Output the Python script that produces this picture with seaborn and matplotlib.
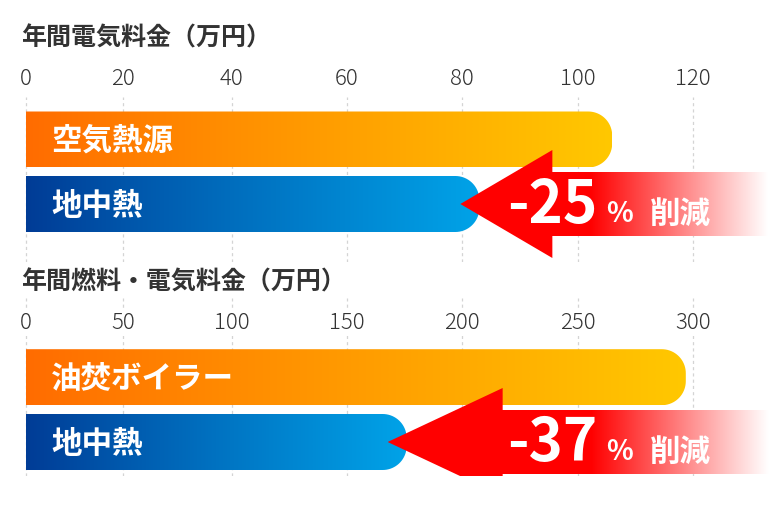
import numpy as np
import matplotlib
matplotlib.use('Agg')
import matplotlib.pyplot as plt
import seaborn as sns
from matplotlib.colors import LinearSegmentedColormap
from matplotlib.patches import Polygon

# データ
elec_labels = ['空気熱源', '地中熱']
elec_values = [106, 83]
elec_ticks = [0, 20, 40, 60, 80, 100, 120]

fuel_labels = ['油焚ボイラー', '地中熱']
fuel_values = [297, 176]
fuel_ticks = [0, 50, 100, 150, 200, 250, 300]

titles = ['年間電気料金（万円）', '年間燃料・電気料金（万円）']
cuts = ['-25', '-37']

W, H = 772, 514
# 元図の目盛り位置（ピクセル）。間隔が均等ではないので区分線形スケールで再現
TICK_PX = [25.7, 123.3, 231.7, 346.7, 462.0, 577.7, 692.7]

sns.set_style('white')
plt.rcParams['font.family'] = ['Noto Sans CJK JP', 'DejaVu Sans']

cmaps = [LinearSegmentedColormap.from_list('org', ['#ff6c00', '#ffc800']),
         LinearSegmentedColormap.from_list('blu', ['#003c96', '#00a3e8'])]


def piecewise(xs, ys):
    xs, ys = np.asarray(xs, float), np.asarray(ys, float)

    def f(v):
        v = np.asarray(v, float)
        out = np.interp(v, xs, ys)
        out = np.where(v < xs[0], ys[0] + (v - xs[0]) * (ys[1] - ys[0]) / (xs[1] - xs[0]), out)
        out = np.where(v > xs[-1], ys[-1] + (v - xs[-1]) * (ys[-1] - ys[-2]) / (xs[-1] - xs[-2]), out)
        return out
    return f


# パネルごとのレイアウト（ピクセル）
panels = [
    dict(labels=elec_labels, values=elec_values, ticks=elec_ticks, title=titles[0], cut=cuts[0],
         title_y=45, top=97, bottom=262, rows=(139.5, 204.0), pad=5.3, head=92),
    dict(labels=fuel_labels, values=fuel_values, ticks=fuel_ticks, title=titles[1], cut=cuts[1],
         title_y=290, top=298, bottom=476, rows=(377.2, 442.0), pad=-25.8, head=115),
]

fig = plt.figure(figsize=(W / 100, H / 100), dpi=100)

for pn in panels:
    ax = fig.add_axes([15 / W, 1 - pn['bottom'] / H, (W - 15) / W, (pn['bottom'] - pn['top']) / H])
    to_px = piecewise(pn['ticks'], TICK_PX)
    to_val = piecewise(TICK_PX, pn['ticks'])
    ax.set_xscale('function', functions=(to_px, to_val))

    c0, c1 = pn['rows']
    pxy = c1 - c0
    xlim = (float(to_val(15)), float(to_val(W)))
    ylim = (1 + (pn['bottom'] - c1) / pxy, -(c0 - pn['top']) / pxy)

    sns.barplot(x=pn['values'], y=pn['labels'], orient='h', ax=ax, width=56 / pxy, color='#ff8800')

    r = 24
    ry = r / pxy
    for i, p in enumerate(ax.patches):
        x0, y0 = p.get_x(), p.get_y()
        x1, y1 = x0 + p.get_width(), y0 + p.get_height()
        p.set_visible(False)
        end_px = float(to_px(x1))
        t1 = np.linspace(-np.pi / 2, 0, 20)
        t2 = np.linspace(0, np.pi / 2, 20)
        pts = [(x0, y0)]
        pts += list(zip(to_val(end_px - r + r * np.cos(t1)), y0 + ry + ry * np.sin(t1)))
        pts += list(zip(to_val(end_px - r + r * np.cos(t2)), y1 - ry + ry * np.sin(t2)))
        pts += [(x0, y1)]
        shape = Polygon(pts, closed=True, facecolor='none', edgecolor='none')
        ax.add_patch(shape)
        im = ax.imshow(np.linspace(0, 1, 256).reshape(1, -1), cmap=cmaps[i], aspect='auto',
                       extent=(x0, x1, y1, y0), zorder=2, interpolation='bilinear')
        im.set_clip_path(shape)
        ax.text(float(to_val(51)), i + 1.5 / pxy, pn['labels'][i], color='white', fontsize=22,
                fontweight='bold', va='center', ha='left', zorder=5)

    # 削減矢印
    yc = 1
    tip_px = float(to_px(pn['values'][1])) - 19
    tip = float(to_val(tip_px))
    base = float(to_val(tip_px + pn['head']))
    end = xlim[1]
    hh, sh = 54 / pxy, 32 / pxy
    arrow = Polygon([(tip, yc), (base, yc - hh), (base, yc - sh), (end, yc - sh), (end, yc + sh),
                     (base, yc + sh), (base, yc + hh)], closed=True, facecolor='none', edgecolor='none')
    ax.add_patch(arrow)
    cols = np.linspace(tip_px, W, 400)
    f = np.clip((cols - 590) / (768 - 590), 0, 1)
    img = np.stack([np.ones_like(f), f, f], axis=-1).reshape(1, -1, 3)
    am = ax.imshow(img, aspect='auto', extent=(tip, end, yc + hh, yc - hh), zorder=3,
                   interpolation='bilinear')
    am.set_clip_path(arrow)

    yb = yc + 18.5 / pxy
    ax.text(float(to_val(507)), yb, pn['cut'], color='white', fontsize=42, fontweight='bold',
            va='baseline', ha='left', zorder=5)
    ax.text(float(to_val(606)), yb, '%', color='white', fontsize=20, fontweight='bold',
            va='baseline', ha='left', zorder=5)
    ax.text(float(to_val(650)), yb, '削減', color='white', fontsize=22, fontweight='bold',
            va='baseline', ha='left', zorder=5)

    ax.set_xlim(xlim)
    ax.set_ylim(ylim)
    ax.set_xticks(pn['ticks'])
    ax.set_xticklabels([str(t) for t in pn['ticks']])
    ax.xaxis.tick_top()
    ax.tick_params(axis='x', length=0, pad=pn['pad'], labelsize=16, labelcolor='#333333')
    for lbl in ax.get_xticklabels():
        lbl.set_fontweight('light')
        lbl.set_bbox(dict(facecolor='white', edgecolor='none', pad=1.5))
    ax.set_yticks([])
    ax.set_xlabel('')
    ax.set_ylabel('')
    ax.grid(axis='x', color='#d4d4d4', linestyle=(0, (2.5, 2.5)), linewidth=0.9)
    ax.set_axisbelow(True)
    for s in ax.spines.values():
        s.set_visible(False)
    ax.patch.set_alpha(0)

    fig.text(21 / W, 1 - pn['title_y'] / H, pn['title'], fontsize=18, fontweight='bold',
             color='#333333', va='baseline', ha='left')

fig.savefig('out.png', dpi=100)
